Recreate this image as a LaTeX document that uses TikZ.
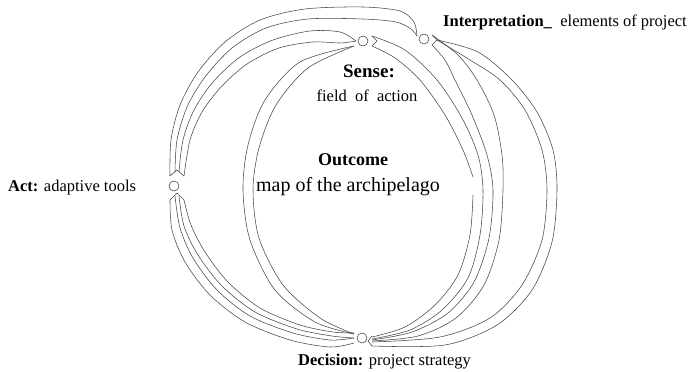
\documentclass[tikz,border=0pt]{standalone}
\usepackage{fontspec}
\setmainfont{Liberation Serif}
\begin{document}
\begin{tikzpicture}[x=1pt,y=-1pt,
  ln/.style={draw=black!72,line width=0.55pt},
  dot/.style={circle,draw=black!75,line width=0.55pt,minimum size=10pt,inner sep=0pt},
  lab/.style={inner sep=0pt,anchor=base west,font=\fontsize{16.5}{18}\selectfont},
  ctr/.style={inner sep=0pt,anchor=base,font=\fontsize{19}{21}\selectfont}]
\useasboundingbox (0,0) rectangle (691,372);
% circles
\node[dot] (S) at (363,41) {};
\node[dot] (I) at (424,39) {};
\node[dot] (A) at (174,186) {};
\node[dot] (D) at (362,338) {};
% labels
\node[lab] (tI) at (443,27) {\textbf{Interpretation\_}\ \ elements\ of project};
\node[ctr] (tS) at (369,77) {\textbf{Sense:}};
\node[ctr] (tS2) at (367,101) {\fontsize{16.5}{18}\selectfont field\ \ of\ \ action};
\node[ctr,font=\fontsize{18}{20}\selectfont] (tO) at (353,165) {\textbf{Outcome}};
\node[ctr,font=\fontsize{20}{22}\selectfont] (tO2) at (348,191) {map of the archipelago};
\node[lab] (tA) at (8,191) {\textbf{Act:} adaptive tools};
\node[lab] (tD) at (298,365) {\textbf{Decision:} project strategy};
% top-left outer band (Act -> Interpretation)
\draw[ln] plot[smooth] coordinates {(170,176) (171,140) (180,105) (198,72) (225,42) (260,20) (305,9) (363,7) (400,11) (414,22) (417,36)};
\draw[ln] plot[smooth] coordinates {(175,172) (177,140) (187,107) (205,77) (232,48) (266,28) (308,19) (363,19) (396,22) (411,29) (417,36)};
% top-left inner band (Act -> Sense)
\draw[ln] plot[smooth] coordinates {(179,172) (183,140) (194,110) (213,82) (240,57) (273,40) (310,31) (340,32) (356,41)};
\draw[ln] plot[smooth] coordinates {(184,176) (190,140) (202,112) (221,87) (247,64) (279,48) (313,42) (340,43) (356,41)};
\draw[ln] (170,176) -- (177,170) -- (184,176);
% lower-left bands (Act -> Decision)
\draw[ln] (170,200) -- (177,193) -- (184,200);
\draw[ln] plot[smooth] coordinates {(170,200) (172,230) (185,262) (210,295) (245,322) (290,340) (330,347) (354,343)};
\draw[ln] plot[smooth] coordinates {(175,196) (180,228) (193,258) (217,290) (250,316) (293,333) (330,340) (354,338)};
\draw[ln] plot[smooth] coordinates {(179,196) (184,226) (198,255) (222,286) (255,312) (297,329) (332,336) (354,338)};
\draw[ln] plot[smooth] coordinates {(184,200) (191,225) (205,252) (228,282) (260,308) (300,325) (333,332) (354,333)};
% inner left ring (Sense -> Decision)
\draw[ln] plot[smooth] coordinates {(354,46) (300,62) (265,100) (248,145) (243,190) (250,240) (275,290) (315,322) (354,334)};
\draw[ln] plot[smooth] coordinates {(354,46) (308,68) (276,105) (259,148) (253,190) (259,238) (283,285) (320,318) (354,334)};
% right inner band (Sense -> Decision)
\draw[ln] (372,36) -- (377,41) -- (372,46);
\draw[ln] plot[smooth] coordinates {(372,46) (395,58) (420,80) (445,115) (463,150) (473,177)};
\draw[ln] plot[smooth] coordinates {(473,195) (470,235) (458,275) (435,305) (405,327) (372,337)};
\draw[ln] plot[smooth] coordinates {(372,36) (405,50) (437,80) (462,118) (478,155) (483,190) (480,235) (468,278) (442,310) (410,330) (372,339)};
% right middle band (Interpretation -> Decision)
\draw[ln] (432,35) -- (437,40) -- (432,45);
\draw[ln] plot[smooth] coordinates {(432,45) (445,60) (455,80) (472,115) (487,155) (493,190) (489,238) (474,282) (448,313) (412,332) (372,340)};
\draw[ln] plot[smooth] coordinates {(432,35) (458,55) (477,80) (494,115) (502,155) (503,190) (499,240) (484,285) (456,318) (418,336) (372,341)};
% right outer band
\draw[ln] plot[smooth] coordinates {(437,40) (470,60) (500,80) (525,110) (542,150) (547,190) (542,240) (522,285) (490,318) (440,337) (372,342)};
\draw[ln] plot[smooth] coordinates {(437,40) (478,52) (512,80) (537,112) (553,150) (557,190) (552,242) (532,290) (497,325) (445,345) (372,346)};
\draw[ln] (372,336) -- (368,341) -- (372,346);
\end{tikzpicture}
\end{document}
